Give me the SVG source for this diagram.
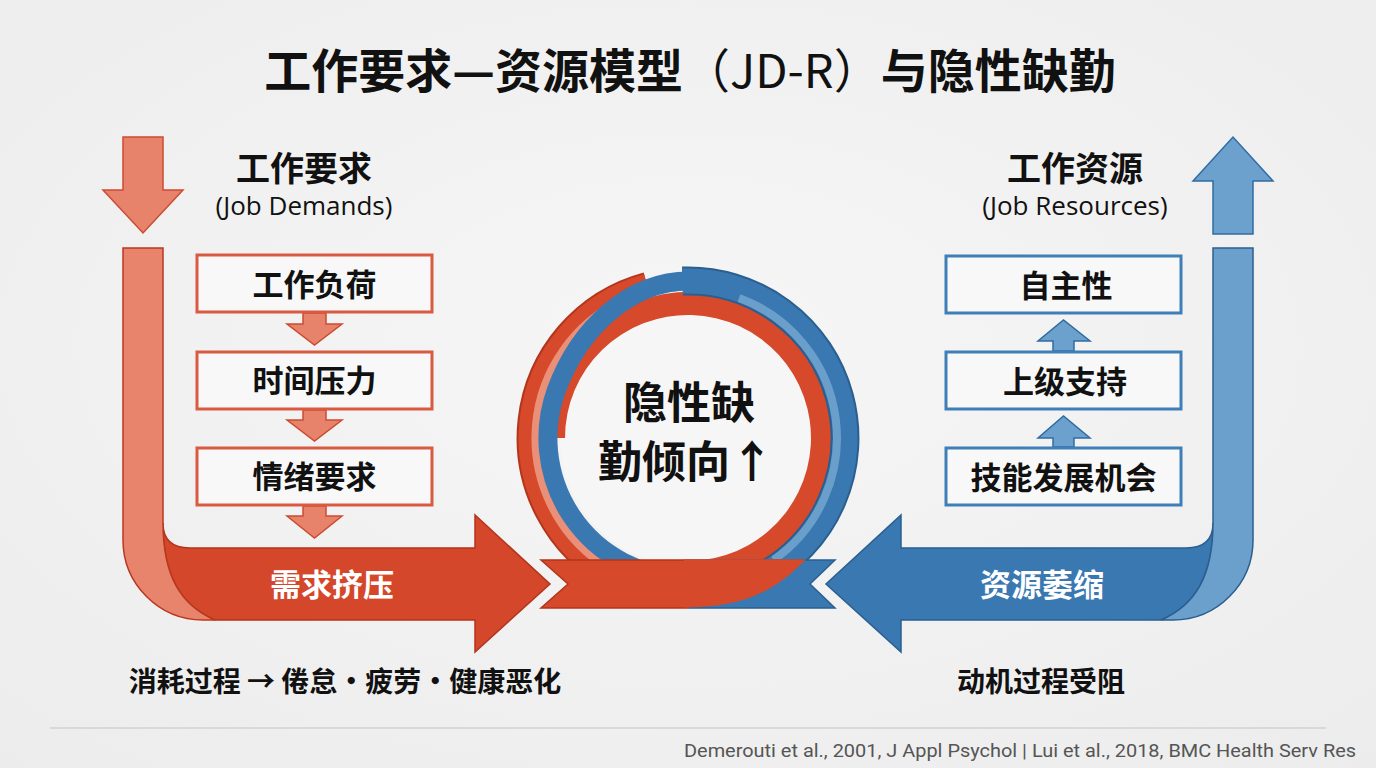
<svg xmlns="http://www.w3.org/2000/svg" width="1376" height="768" viewBox="0 0 1376 768">
<defs>
<radialGradient id="bg" cx="50%" cy="45%" r="75%">
<stop offset="0" stop-color="#f6f6f6"/>
<stop offset="1" stop-color="#ececec"/>
</radialGradient>
</defs>
<style>
.cjk{font-family:"Noto Sans CJK SC","Noto Sans",sans-serif;font-weight:700;fill:#111;}
.lat{font-family:"Open Sans","Noto Sans",sans-serif;font-weight:400;fill:#111;}
.box-r{fill:#f8f8f8;stroke:#d95a40;stroke-width:3;}
.box-b{fill:#f8f8f8;stroke:#3f7fb8;stroke-width:3;}
.sa-r{fill:#e8836b;stroke:#cc4b30;stroke-width:1.5;}
.sa-b{fill:#6da1cd;stroke:#2f6ca3;stroke-width:1.5;}
.red-d{fill:#d4472a;stroke:#b3351c;stroke-width:1.5;}
.red-l{fill:#e8846c;stroke:#b8391f;stroke-width:1.5;}
.blue-d{fill:#3a78b1;stroke:#2a5f90;stroke-width:1.5;}
.blue-l{fill:#6ca0cc;stroke:#2a5f90;stroke-width:1.5;}
.ring{fill:none;}
.wt{fill:#ffffff;}
</style>
<rect width="1376" height="768" fill="url(#bg)"/>

<text x="690" y="88" text-anchor="middle" class="cjk" font-size="47">工作要求—资源模型<tspan font-weight="400">（JD-R）</tspan>与隐性缺勤</text>

<!-- Connectors -->
<g id="connectors">
  <!-- left big L arrow -->
  <path class="red-d" d="M163,523 Q163,548 190,548 H475 V515 L550,584 L475,652 V620 H215 C180,605 163,575 163,523 Z"/>
  <path class="red-l" d="M123,248 H163 V523 C163,575 180,605 215,620 H203 C159,620 123,584 123,540 Z"/>
  <path class="sa-r" d="M123,137 H163 V190 H183 L143,233 L103,190 H123 Z"/>
  <!-- right big L arrow -->
  <path class="blue-d" d="M1213,523 Q1213,548 1186,548 H901 V515 L826,584 L901,652 V620 H1161 C1196,605 1213,575 1213,523 Z"/>
  <path class="blue-l" d="M1253,248 H1213 V523 C1213,575 1196,605 1161,620 H1173 C1217,620 1253,584 1253,540 Z"/>
  <path class="sa-b" d="M1213,234 V181 H1193 L1233,137 L1273,181 H1253 V234 Z"/>
  <!-- small down arrows -->
  <path class="sa-r" d="M303,313 H326 V324 H342 L314.5,345 L287,324 H303 Z"/>
  <path class="sa-r" d="M303,410 H326 V420 H342 L314.5,441 L287,420 H303 Z"/>
  <path class="sa-r" d="M303,506 H326 V516 H342 L314.5,538 L287,516 H303 Z"/>
  <!-- small up arrows -->
  <path class="sa-b" d="M1053,351 V341 H1038 L1063.5,320 L1090,341 H1074 V351 Z"/>
  <path class="sa-b" d="M1053,447 V438 H1038 L1063.5,416 L1090,438 H1074 V447 Z"/>
  <text x="332" y="596" text-anchor="middle" class="cjk wt" font-size="31">需求挤压</text>
  <text x="1042" y="596" text-anchor="middle" class="cjk wt" font-size="31">资源萎缩</text>
</g>

<!-- Left header -->
<g id="demands-title">
  <text x="304" y="181" text-anchor="middle" class="cjk" font-size="34">工作要求</text>
  <text x="304" y="215" text-anchor="middle" class="lat" font-size="26">(Job Demands)</text>
</g>
<g id="node-workload">
  <rect class="box-r" x="197" y="255" width="235" height="57"/>
  <text x="314.5" y="296" text-anchor="middle" class="cjk" font-size="31">工作负荷</text>
</g>
<g id="node-timepressure">
  <rect class="box-r" x="197" y="352" width="235" height="57"/>
  <text x="314.5" y="392" text-anchor="middle" class="cjk" font-size="31">时间压力</text>
</g>
<g id="node-emotional">
  <rect class="box-r" x="197" y="448" width="235" height="57"/>
  <text x="314.5" y="488" text-anchor="middle" class="cjk" font-size="31">情绪要求</text>
</g>

<!-- Right header -->
<g id="resources-title">
  <text x="1075" y="181" text-anchor="middle" class="cjk" font-size="34">工作资源</text>
  <text x="1075" y="215" text-anchor="middle" class="lat" font-size="26">(Job Resources)</text>
</g>
<g id="node-autonomy">
  <rect class="box-b" x="946" y="256" width="235" height="57"/>
  <text x="1066" y="297" text-anchor="middle" class="cjk" font-size="31">自主性</text>
</g>
<g id="node-support">
  <rect class="box-b" x="946" y="352" width="235" height="57"/>
  <text x="1065" y="393" text-anchor="middle" class="cjk" font-size="31">上级支持</text>
</g>
<g id="node-skills">
  <rect class="box-b" x="946" y="448" width="235" height="57"/>
  <text x="1063.5" y="489" text-anchor="middle" class="cjk" font-size="31">技能发展机会</text>
</g>

<!-- Center circle -->
<g id="center">
  <circle cx="688" cy="438" r="128" fill="#f6f6f6"/>
  <!-- red outer left -->
  <path class="ring" stroke="#b3351c" stroke-width="29" d="M614.3,576.6 A157,157 0 0 1 647.4,286.4"/>
  <path class="ring" stroke="#d6492b" stroke-width="25" d="M614.3,576.6 A157,157 0 0 1 647.4,286.4"/>
  <path class="ring" stroke="#ea9079" stroke-width="9" d="M600.8,562.5 A152,152 0 0 1 623.8,300.2"/>
  <!-- red inner sweep -->
  <path fill="#d6492b" d="M547,438 A143,143 0 1 1 811.8,509.5 C781.8,561.5 730,609 673.2,607.4 L677.3,560.5 A123,123 0 1 0 565,438 Z"/>
  <!-- blue outer right -->
  <path class="ring" stroke="#2a5f90" stroke-width="29" d="M682.5,281.1 A157,157 0 0 1 761.7,576.6"/>
  <path class="ring" stroke="#3a78b1" stroke-width="25" d="M682.5,281.1 A157,157 0 0 1 761.7,576.6"/>
  <path class="ring" stroke="#6a9fcb" stroke-width="8" d="M739,298 A149,149 0 0 1 773.5,560"/>
  <!-- blue spiral left -->
  <path class="ring" stroke="#3a78b1" stroke-width="19" d="M683,578 A140,140 0 0 1 556.4,390.1 C578.4,330 629.5,278.9 693.5,281.1"/>
  <!-- ribbons -->
  <path fill="#d6492b" d="M541,560 H689 V608 H541 L568,584 Z"/>
  <path fill="#3a78b1" d="M688,560 H835 L810,584 L835,608 H688 Z"/>
  <path fill="none" stroke="#b3351c" stroke-width="1.5" d="M688,560 H541 L568,584 L541,608 H688"/>
  <path fill="none" stroke="#2a5f90" stroke-width="1.5" d="M688,560 H835 L810,584 L835,608 H688"/>
  <path fill="#d6492b" d="M684,559.3 L806,559.3 C774,592 744,606 690,607.5 L684,607.5 Z"/>
  <text x="689" y="419" text-anchor="middle" class="cjk" font-size="44">隐性缺</text>
  <text x="686" y="478" text-anchor="middle" class="cjk" font-size="44">勤倾向↑</text>
</g>

<!-- Bottom captions -->
<g id="caption-left">
  <text x="345" y="692" text-anchor="middle" class="cjk" font-size="28">消耗过程 → 倦怠・疲劳・健康恶化</text>
</g>
<g id="caption-right">
  <text x="1041" y="692" text-anchor="middle" class="cjk" font-size="28">动机过程受阻</text>
</g>

<line x1="50" y1="728" x2="1326" y2="728" stroke="#c4c4c4" stroke-width="1.2"/>
<text x="684" y="757" font-family="Roboto, 'Liberation Sans', sans-serif" font-size="19" fill="#555" textLength="672" lengthAdjust="spacingAndGlyphs">Demerouti et al., 2001, J Appl Psychol | Lui et al., 2018, BMC Health Serv Res</text>
</svg>
